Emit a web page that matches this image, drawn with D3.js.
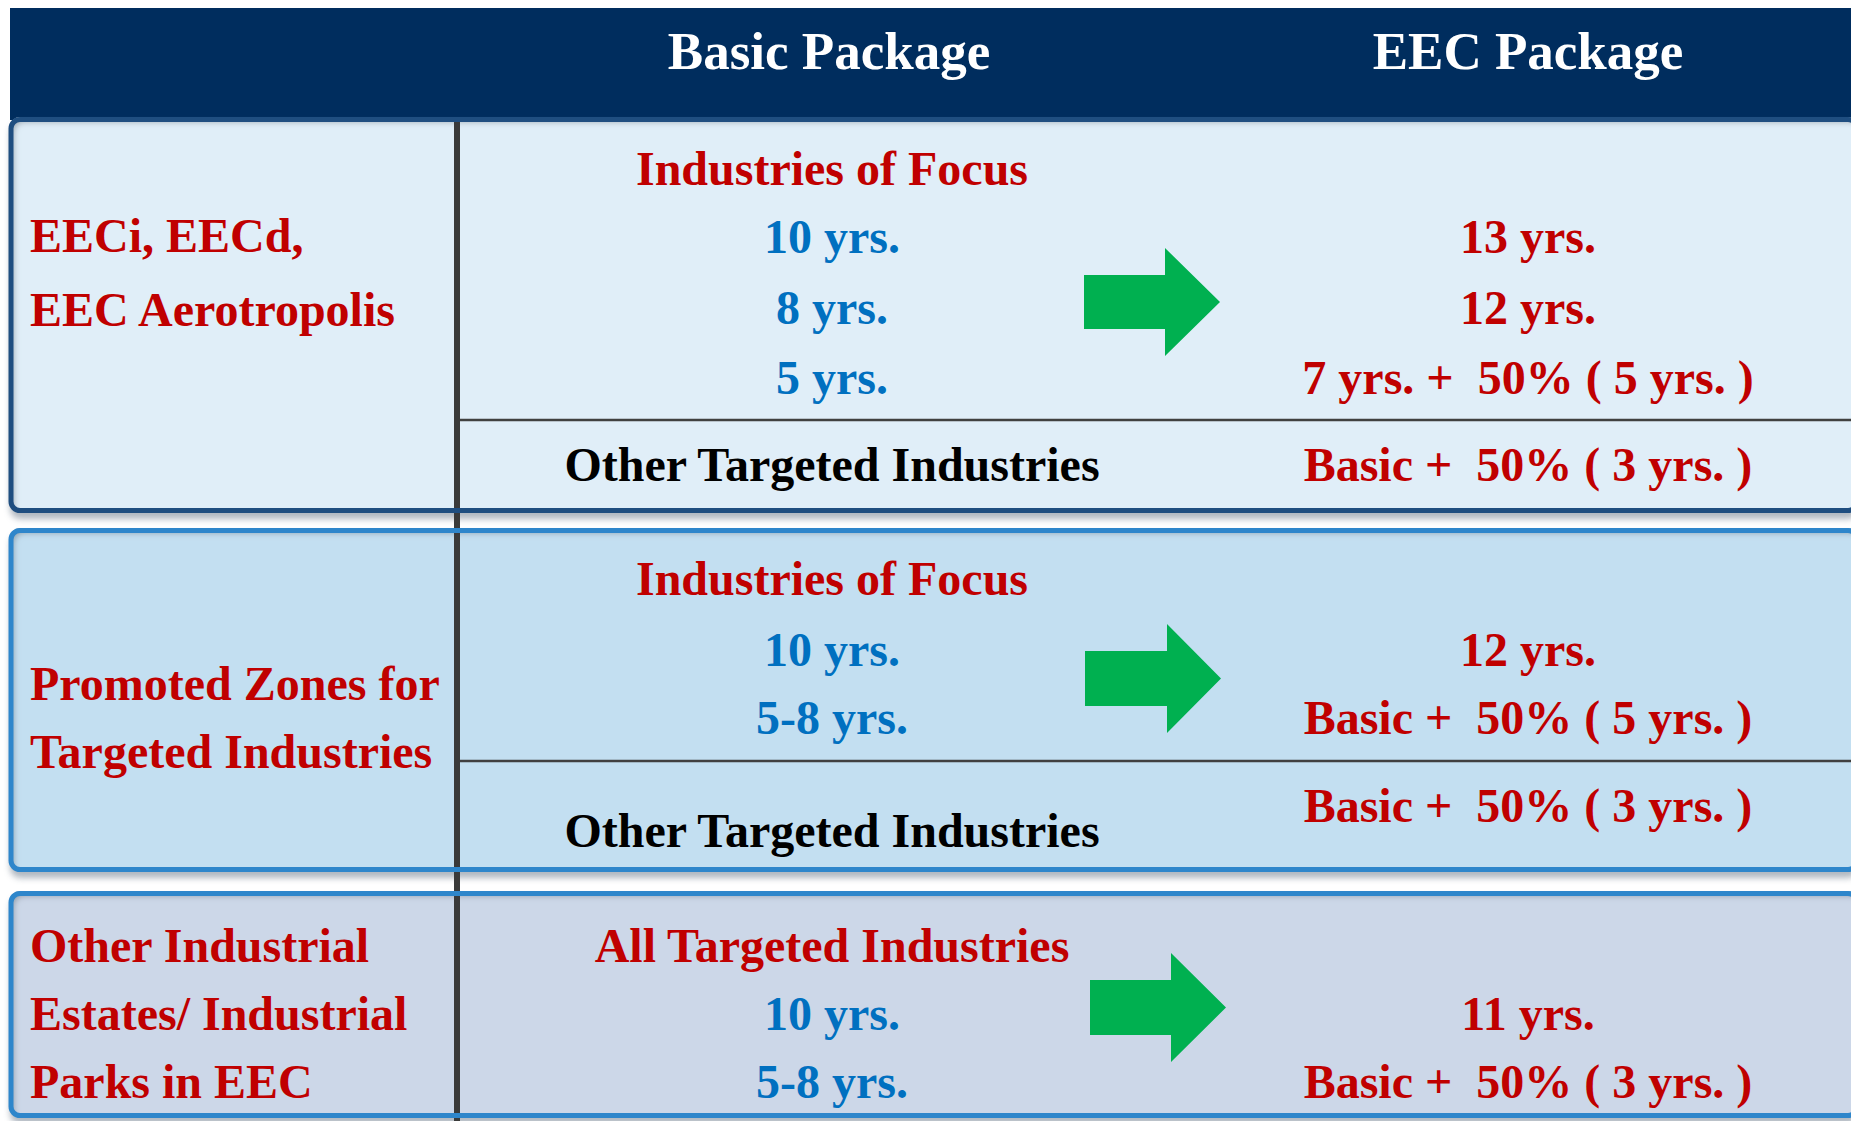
<!DOCTYPE html>
<html>
<head>
<meta charset="utf-8">
<script src="https://cdn.jsdelivr.net/npm/d3@7"></script>
<style>
  html, body { margin: 0; padding: 0; background: #ffffff; }
  svg { display: block; }
  text { font-family: "Liberation Serif", "Times New Roman", serif; font-weight: bold; white-space: pre; }
</style>
</head>
<body>
<svg id="chart" width="1851" height="1121"></svg>
<script>
// ---------------- data ----------------
const headers = ["Basic Package", "EEC Package"];
const zones = [
  ["EECi, EECd,", "EEC Aerotropolis"],
  ["Promoted Zones for", "Targeted Industries"],
  ["Other Industrial", "Estates/ Industrial", "Parks in EEC"]
];
const focusLabels = ["Industries of Focus", "Industries of Focus", "All Targeted Industries"];
const basicValues = [
  ["10 yrs.", "8 yrs.", "5 yrs."],
  ["10 yrs.", "5-8 yrs."],
  ["10 yrs.", "5-8 yrs."]
];
const eecValues = [
  ["13 yrs.", "12 yrs.", "7 yrs. +  50% ( 5 yrs. )"],
  ["12 yrs.", "Basic +  50% ( 5 yrs. )"],
  ["11 yrs.", "Basic +  50% ( 3 yrs. )"]
];
const otherLabel = ["Other Targeted Industries", "Other Targeted Industries", null];
const otherValues = ["Basic +  50% ( 3 yrs. )", "Basic +  50% ( 3 yrs. )", null];

// ---------------- layout ----------------
const W = 1851, H = 1121;
const svg = d3.select("#chart");
const defs = svg.append("defs");

const colX = d3.scaleOrdinal().domain(["zone", "basic", "arrow", "eec"]).range([30, 832, 1084, 1528]);
const y = d3.scaleLinear().domain([0, 1121]).range([0, 1121]);

const boxes = [
  { top: 117, bottom: 513, fill: "#E0EEF8", stroke: "#1F4E80", zoneY: [252, 326], focusY: 185, valY: [253, 324, 394], sepY: 420, otherY: 481, otherValY: 481, arrow: { x0: 1084, x1: 1165, x2: 1220, r0: 275, r1: 329, h0: 248, h1: 356 } },
  { top: 528, bottom: 872, fill: "#C3DFF1", stroke: "#2E86CB", zoneY: [700, 768], focusY: 595, valY: [666, 734], sepY: 761, otherY: 847, otherValY: 822, arrow: { x0: 1085, x1: 1167, x2: 1221, r0: 651, r1: 706, h0: 624, h1: 733 } },
  { top: 891, bottom: 1118, fill: "#CCD7E8", stroke: "#2E86CB", zoneY: [962, 1030, 1098], focusY: 962, valY: [1030, 1098], sepY: null, otherY: null, otherValY: null, arrow: { x0: 1090, x1: 1171, x2: 1226, r0: 980, r1: 1035, h0: 953, h1: 1062 } }
];

// filters
const drop = defs.append("filter").attr("id", "drop").attr("x", "-5%").attr("y", "-5%").attr("width", "110%").attr("height", "120%");
drop.append("feGaussianBlur").attr("stdDeviation", 3);

const inset = defs.append("filter").attr("id", "inset").attr("x", "-5%").attr("y", "-5%").attr("width", "110%").attr("height", "110%");
inset.append("feOffset").attr("dx", 4).attr("dy", 5).attr("in", "SourceAlpha").attr("result", "off");
inset.append("feGaussianBlur").attr("in", "off").attr("stdDeviation", 3).attr("result", "blur");
inset.append("feComposite").attr("operator", "out").attr("in", "SourceAlpha").attr("in2", "blur").attr("result", "inverse");
inset.append("feFlood").attr("flood-color", "#6f7c88").attr("flood-opacity", 0.75).attr("result", "color");
inset.append("feComposite").attr("operator", "in").attr("in", "color").attr("in2", "inverse").attr("result", "shadow");
inset.append("feComposite").attr("operator", "over").attr("in", "shadow").attr("in2", "SourceGraphic");

// header
svg.append("rect").attr("x", 10).attr("y", 8).attr("width", W - 10).attr("height", 112).attr("fill", "#002D5E");
svg.selectAll("text.head").data(headers).join("text")
  .attr("class", "head")
  .attr("x", (d, i) => i === 0 ? 829 : 1528)
  .attr("y", y(69))
  .attr("text-anchor", "middle")
  .attr("font-size", 53)
  .attr("fill", "#ffffff")
  .text(d => d);

const boxLeft = 10, boxRight = 1858;

// drop shadows
svg.selectAll("rect.shadow").data(boxes).join("rect")
  .attr("class", "shadow")
  .attr("x", boxLeft).attr("y", d => y(d.top) + 6)
  .attr("width", boxRight - boxLeft).attr("height", d => y(d.bottom) - y(d.top))
  .attr("rx", 10).attr("fill", "#8f9aa6").attr("opacity", 0.7)
  .attr("filter", "url(#drop)");

// box fills with inset shadow
svg.selectAll("rect.fill").data(boxes).join("rect")
  .attr("class", "fill")
  .attr("x", boxLeft).attr("y", d => y(d.top))
  .attr("width", boxRight - boxLeft).attr("height", d => y(d.bottom) - y(d.top))
  .attr("rx", 10).attr("fill", d => d.fill)
  .attr("filter", "url(#inset)");

// vertical divider
svg.append("rect").attr("x", 454).attr("y", 121).attr("width", 6).attr("height", H - 121).attr("fill", "#3a3a3a");

// box borders
svg.selectAll("rect.border").data(boxes).join("rect")
  .attr("class", "border")
  .attr("x", boxLeft + 1).attr("y", d => y(d.top) + 2.5)
  .attr("width", boxRight - boxLeft - 2).attr("height", d => y(d.bottom) - y(d.top) - 5)
  .attr("rx", 9).attr("fill", "none")
  .attr("stroke", d => d.stroke).attr("stroke-width", 5);

// separators
svg.selectAll("line.sep").data(boxes.filter(b => b.sepY)).join("line")
  .attr("class", "sep")
  .attr("x1", 460).attr("x2", W)
  .attr("y1", d => y(d.sepY)).attr("y2", d => y(d.sepY))
  .attr("stroke", "#404040").attr("stroke-width", 2.5);

const red = "#C00000", blue = "#0070C0";
const FS = 48;

boxes.forEach((b, i) => {
  const g = svg.append("g");
  zones[i].forEach((t, k) => {
    g.append("text").attr("x", colX("zone")).attr("y", y(b.zoneY[k]))
      .attr("font-size", FS).attr("fill", red).text(t);
  });
  g.append("text").attr("x", colX("basic")).attr("y", y(b.focusY))
    .attr("text-anchor", "middle").attr("font-size", FS).attr("fill", red).text(focusLabels[i]);
  basicValues[i].forEach((t, k) => {
    g.append("text").attr("x", colX("basic")).attr("y", y(b.valY[k]))
      .attr("text-anchor", "middle").attr("font-size", FS).attr("fill", blue).text(t);
  });
  eecValues[i].forEach((t, k) => {
    g.append("text").attr("x", colX("eec")).attr("y", y(b.valY[k]))
      .attr("text-anchor", "middle").attr("font-size", FS).attr("fill", red).text(t);
  });
  if (otherLabel[i]) {
    g.append("text").attr("x", colX("basic")).attr("y", y(b.otherY))
      .attr("text-anchor", "middle").attr("font-size", FS).attr("fill", "#000000").text(otherLabel[i]);
    g.append("text").attr("x", colX("eec")).attr("y", y(b.otherValY))
      .attr("text-anchor", "middle").attr("font-size", FS).attr("fill", red).text(otherValues[i]);
  }
  const a = b.arrow;
  const mid = (a.h0 + a.h1) / 2;
  const p = d3.path();
  p.moveTo(a.x0, y(a.r0)); p.lineTo(a.x1, y(a.r0)); p.lineTo(a.x1, y(a.h0));
  p.lineTo(a.x2, y(mid)); p.lineTo(a.x1, y(a.h1)); p.lineTo(a.x1, y(a.r1));
  p.lineTo(a.x0, y(a.r1)); p.closePath();
  g.append("path").attr("d", p.toString()).attr("fill", "#00B050");
});
</script>
</body>
</html>
